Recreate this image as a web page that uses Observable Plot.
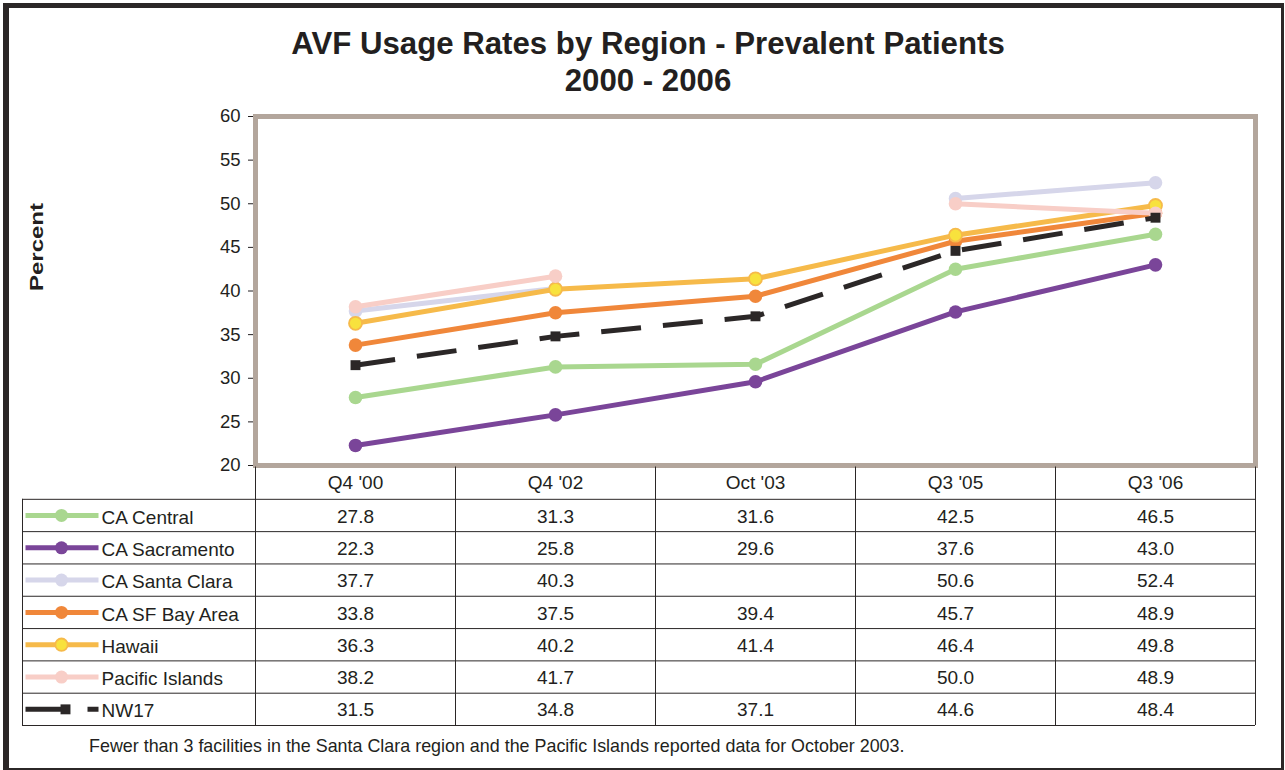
<!DOCTYPE html>
<html>
<head>
<meta charset="utf-8">
<script src="https://cdn.jsdelivr.net/npm/d3@7"></script>
<script src="https://cdn.jsdelivr.net/npm/@observablehq/plot@0.6"></script>
<style>
  body { margin: 0; background: #fff; font-family: "Liberation Sans", Arial, sans-serif; }
  #wrap { position: relative; width: 1285px; height: 770px; overflow: hidden; background: #fff; }
  #border { position: absolute; left: 3px; top: 3px; width: 1281px; height: 767px; box-sizing: border-box;
            border-left: 6px solid #2b2727; border-top: 5px solid #2b2727; border-right: 3px solid #2b2727; border-bottom: 2px solid #2b2727;
            pointer-events: none; z-index: 5; }
  #title { position: absolute; left: 0; width: 1296px; top: 25px; text-align: center; font-weight: bold;
           font-size: 31.2px; line-height: 37px; color: #231f20; }
  #chart { position: absolute; left: 0; top: 100px; }
  #table { position: absolute; left: 0; top: 466px; }
  #note { position: absolute; left: 89px; top: 736px; font-size: 17.9px; line-height: 20px; color: #231f20; white-space: nowrap; }
  svg { overflow: visible; }
</style>
</head>
<body>
<div id="wrap">
  <div id="title">AVF Usage Rates by Region - Prevalent Patients<br>2000 - 2006</div>
  <div id="chart"></div>
  <div id="table"></div>
  <div id="note"></div>
  <div id="border"></div>
</div>
<script>
// ---------------- data ----------------
const periods = ["Q4 '00", "Q4 '02", "Oct '03", "Q3 '05", "Q3 '06"];
const seriesNames = ["CA Central", "CA Sacramento", "CA Santa Clara", "CA SF Bay Area", "Hawaii", "Pacific Islands", "NW17"];
const caCentral      = [27.8, 31.3, 31.6, 42.5, 46.5];
const caSacramento   = [22.3, 25.8, 29.6, 37.6, 43.0];
const caSantaClara   = [37.7, 40.3, null, 50.6, 52.4];
const caSFBayArea    = [33.8, 37.5, 39.4, 45.7, 48.9];
const hawaii         = [36.3, 40.2, 41.4, 46.4, 49.8];
const pacificIslands = [38.2, 41.7, null, 50.0, 48.9];
const nw17           = [31.5, 34.8, 37.1, 44.6, 48.4];
const yTicks = [20, 25, 30, 35, 40, 45, 50, 55, 60];
const footnote = "Fewer than 3 facilities in the Santa Clara region and the Pacific Islands reported data for October 2003.";

// ---------------- styles ----------------
const seriesColors = ["#a9d78f", "#7a4599", "#d6d6ea", "#f0873a", "#f6ba4a", "#f8cec7", "#2b2727"];
const hawaiiMarkerFill = "#f8e23d";
const dashPattern = "40,22";
const textColor = "#231f20";
const font = "'Liberation Sans', Arial, sans-serif";

const allValues = [caCentral, caSacramento, caSantaClara, caSFBayArea, hawaii, pacificIslands, nw17];
const rows = [];
seriesNames.forEach((s, si) => periods.forEach((p, pi) => {
  rows.push({series: s, period: p, value: allValues[si][pi], si, pi});
}));
const colorScale = {domain: seriesNames, range: seriesColors};

// ---------------- line chart ----------------
const lineMarks = [];
seriesNames.forEach((s, si) => {
  const data = rows.filter(d => d.series === s);
  const isNW = s === "NW17";
  lineMarks.push(Plot.line(data, {
    x: "period", y: "value", stroke: "series", strokeWidth: 5,
    strokeLinejoin: "round", strokeLinecap: "butt",
    strokeDasharray: isNW ? dashPattern : null
  }));
  const pts = data.filter(d => d.value != null);
  if (isNW) {
    lineMarks.push(Plot.dot(pts, {x: "period", y: "value", symbol: "square", r: 5.6, fill: "series", stroke: "none"}));
  } else if (s === "Hawaii") {
    lineMarks.push(Plot.dot(pts, {x: "period", y: "value", r: 6.5, fill: hawaiiMarkerFill, stroke: "series", strokeWidth: 1.8}));
  } else {
    lineMarks.push(Plot.dot(pts, {x: "period", y: "value", r: 6.8, fill: "series", stroke: "none"}));
  }
});

const chart = Plot.plot({
  width: 1285, height: 367,
  marginTop: 16, marginBottom: 2, marginLeft: 255, marginRight: 30,
  style: {background: "transparent", fontFamily: font, fontSize: "18.5px", color: textColor},
  x: {type: "point", domain: periods, padding: 0.5, axis: null},
  y: {domain: [20, 60], ticks: yTicks, tickSize: 7, tickPadding: 8, label: null},
  color: colorScale,
  marks: [
    Plot.frame({stroke: "#b3a69c", strokeWidth: 5}),
    ...lineMarks,
    Plot.text(["Percent"], {frameAnchor: "left", dx: -218, rotate: -90, text: d => d,
      fontWeight: "bold", fontSize: 17.5, fill: textColor})
  ]
});
d3.select(chart).selectAll("text").filter(function() { return this.textContent === "Percent"; })
  .attr("textLength", 88).attr("lengthAdjust", "spacingAndGlyphs");
document.getElementById("chart").appendChild(chart);

// ---------------- data table ----------------
const labelLeft = -233 / 200;   // left edge of the label column, in column units
const glyphX1 = -230 / 200, glyphX2 = -157 / 200, glyphCX = -194 / 200, labelX = -154 / 200;
const lineColor = "#2b2727";
const cells = rows.filter(d => d.value != null);
const rowOf = d => seriesNames.indexOf(d) + 1.5;
const plainSeries = seriesNames.filter(d => d !== "NW17");

const table = Plot.plot({
  width: 1285, height: 266,
  marginTop: 0.5, marginBottom: 7, marginLeft: 255, marginRight: 30,
  style: {background: "transparent", fontFamily: font, fontSize: "19px", color: textColor},
  x: {type: "linear", domain: [0, 5], axis: null},
  y: {type: "linear", domain: [0, 8], reverse: true, axis: null},
  color: colorScale,
  marks: [
    Plot.ruleX(d3.range(periods.length + 1), {x: d => d, y1: () => 0, y2: () => 8, stroke: lineColor, strokeWidth: 1}),
    Plot.ruleX([labelLeft], {x: d => d, y1: () => 1, y2: () => 8, stroke: lineColor, strokeWidth: 1}),
    Plot.ruleY(d3.range(1, seriesNames.length + 2), {y: d => d, x1: () => labelLeft, x2: () => 5, stroke: lineColor, strokeWidth: 1}),
    Plot.text(periods, {x: (d, i) => i + 0.5, y: () => 0.5, text: d => d, fill: textColor}),
    Plot.text(cells, {x: d => d.pi + 0.5, y: d => d.si + 1.5, text: d => d.value.toFixed(1), fill: textColor, dy: 1}),
    Plot.link(plainSeries, {x1: () => glyphX1, x2: () => glyphX2, y1: rowOf, y2: rowOf, stroke: d => d, strokeWidth: 5}),
    Plot.link(["NW17"], {x1: () => glyphX1, x2: () => glyphX2, y1: rowOf, y2: rowOf, stroke: d => d, strokeWidth: 5, strokeDasharray: dashPattern}),
    Plot.dot(plainSeries.filter(d => d !== "Hawaii"), {x: () => glyphCX, y: rowOf, r: 6.5, fill: d => d}),
    Plot.dot(["Hawaii"], {x: () => glyphCX, y: rowOf, r: 6.2, fill: hawaiiMarkerFill, stroke: d => d, strokeWidth: 1.8}),
    Plot.dot(["NW17"], {x: () => glyphCX + 0.02, y: rowOf, symbol: "square", r: 5.6, fill: d => d}),
    Plot.text(seriesNames, {x: () => labelX, y: rowOf, text: d => d, textAnchor: "start", fill: textColor, dy: 2})
  ]
});
document.getElementById("table").appendChild(table);
document.getElementById("note").textContent = footnote;
</script>
</body>
</html>
